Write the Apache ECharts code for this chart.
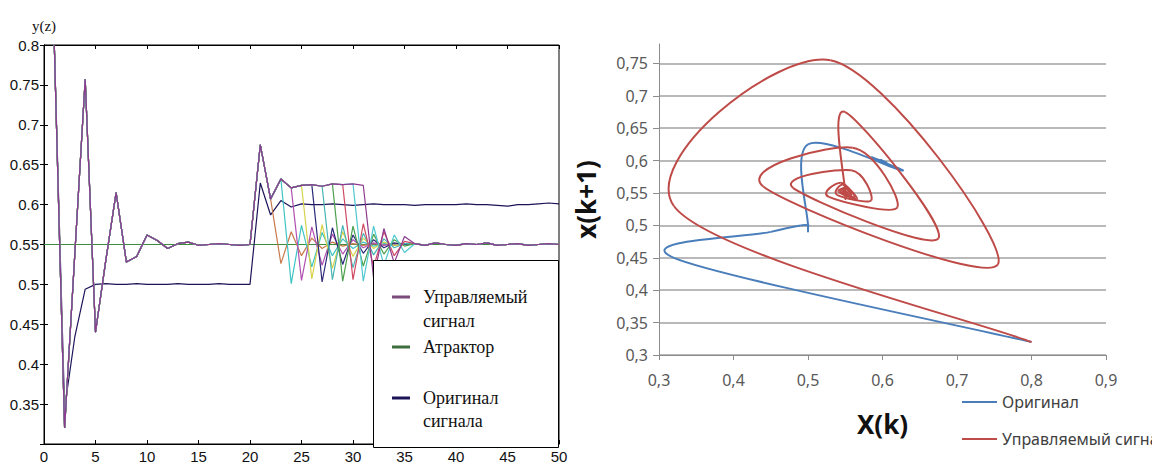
<!DOCTYPE html>
<html>
<head>
<meta charset="utf-8">
<title>Управляемый сигнал и фазовый портрет</title>
<script src="https://cdn.jsdelivr.net/npm/echarts@6.0.0/dist/echarts.min.js"></script>
<style>
    html, body { margin: 0; padding: 0; background: #fff; }
    #chart { width: 1152px; height: 464px; }
</style>
</head>
<body>
<div id="chart"></div>
<script>
// ---- left chart: y(z) over steps ----
var steps = [1, 2, 3, 4, 5, 6, 7, 8, 9, 10, 11, 12, 13, 14, 15, 16, 17, 18, 19, 20,
    21, 22, 23, 24, 25, 26, 27, 28, 29, 30, 31, 32, 33, 34, 35, 36, 37, 38, 39, 40,
    41, 42, 43, 44, 45, 46, 47, 48, 49, 50];

// common start of every controlled run (steps 1..21)
var controlledStart = [0.8, 0.32, 0.54, 0.757, 0.44, 0.53, 0.615, 0.528, 0.535, 0.562,
    0.555, 0.545, 0.551, 0.553, 0.549, 0.55, 0.551, 0.55, 0.549, 0.55, 0.675];
// plateau (steps 22..31)
var controlledPlateau = [0.607, 0.632, 0.621, 0.624, 0.625, 0.623, 0.626, 0.625, 0.626, 0.624];
// step where each run leaves the plateau
var leaveSteps = [22, 23, 24, 25, 26, 27, 28, 29, 30, 31];
var runColors = ['#c8784a', '#3ec4c4', '#b050b0', '#d6d24a', '#2c2a78',
    '#48b4b4', '#4ca04c', '#d04a64', '#50c8d0', '#8e3a8e'];
// values after leaving, up to step 35
var runTails = [
    [0.526, 0.566, 0.536, 0.558, 0.545, 0.553, 0.548, 0.551, 0.549, 0.551, 0.55, 0.549, 0.551],
    [0.501, 0.574, 0.522, 0.565, 0.536, 0.557, 0.545, 0.553, 0.548, 0.551, 0.55, 0.551],
    [0.505, 0.572, 0.524, 0.563, 0.538, 0.556, 0.546, 0.552, 0.549, 0.551, 0.55],
    [0.507, 0.575, 0.52, 0.566, 0.535, 0.558, 0.545, 0.553, 0.549, 0.55],
    [0.503, 0.571, 0.525, 0.562, 0.539, 0.556, 0.546, 0.552, 0.55],
    [0.506, 0.574, 0.521, 0.564, 0.537, 0.557, 0.546, 0.551],
    [0.504, 0.573, 0.523, 0.563, 0.538, 0.556, 0.548],
    [0.506, 0.576, 0.522, 0.566, 0.536, 0.554],
    [0.504, 0.573, 0.524, 0.562, 0.54],
    [0.508, 0.57, 0.527, 0.56]
];
// steps 36..50
var settled = [0.551, 0.549, 0.552, 0.55, 0.549, 0.551, 0.55, 0.552, 0.549, 0.55,
    0.551, 0.549, 0.55, 0.551, 0.55];

var originalSignal = [0.8, 0.345, 0.435, 0.494, 0.5, 0.501, 0.5, 0.5, 0.501, 0.5,
    0.5, 0.5, 0.501, 0.5, 0.5, 0.5, 0.501, 0.5, 0.5, 0.5,
    0.627, 0.587, 0.605, 0.597, 0.601, 0.6, 0.6, 0.601, 0.6, 0.599,
    0.6, 0.601, 0.6, 0.6, 0.6, 0.599, 0.6, 0.6, 0.6, 0.6,
    0.601, 0.6, 0.6, 0.599, 0.598, 0.6, 0.6, 0.601, 0.602, 0.601];
var attractorLevel = 0.55;
var stepRange = [0, 50];

// ---- right chart: phase plane x(k) -> x(k+1) ----
var phaseOriginal = [0.8, 0.32, 0.45, 0.49, 0.5, 0.5, 0.5, 0.5, 0.5, 0.625,
    0.585, 0.605, 0.597, 0.601, 0.599, 0.6, 0.6];
var phaseControlled = [0.8, 0.32, 0.53, 0.755, 0.44, 0.56, 0.62, 0.528, 0.544, 0.566,
    0.541, 0.552, 0.558, 0.546, 0.549, 0.554, 0.549, 0.55, 0.552, 0.549,
    0.55, 0.551, 0.55, 0.55, 0.675, 0.48, 0.558, 0.585, 0.539, 0.547,
    0.563, 0.544, 0.551, 0.557, 0.547, 0.55, 0.553, 0.549, 0.55, 0.551, 0.55, 0.55];
var phaseYTicks = [0.3, 0.35, 0.4, 0.45, 0.5, 0.55, 0.6, 0.65, 0.7, 0.75];

var chart = echarts.init(document.getElementById('chart'), null, {renderer: 'svg'});

function toPairs(values) {
    var out = [];
    for (var i = 0; i < values.length; i++) {
        out.push([steps[i], values[i]]);
    }
    return out;
}

function phasePairs(seq) {
    var out = [];
    for (var i = 0; i < seq.length - 1; i++) {
        out.push([seq[i], seq[i + 1]]);
    }
    return out;
}

function comma(v) {
    return String(Number(v.toFixed(2))).replace('.', ',');
}

// excel-like smoothed line: one bezier piece per point pair
function smoothPiece(points, color) {
    return function (params, api) {
        var i = params.dataIndex;
        if (i >= points.length - 1) {
            return null;
        }
        var p0 = api.coord(points[Math.max(i - 1, 0)]);
        var p1 = api.coord(points[i]);
        var p2 = api.coord(points[i + 1]);
        var p3 = api.coord(points[Math.min(i + 2, points.length - 1)]);
        var t = 1 / 6;
        return {
            type: 'bezierCurve',
            shape: {
                x1: p1[0], y1: p1[1], x2: p2[0], y2: p2[1],
                cpx1: p1[0] + (p2[0] - p0[0]) * t, cpy1: p1[1] + (p2[1] - p0[1]) * t,
                cpx2: p2[0] - (p3[0] - p1[0]) * t, cpy2: p2[1] - (p3[1] - p1[1]) * t
            },
            style: {stroke: color, lineWidth: 2, fill: 'none'}
        };
    };
}

var series = [];

// attractor
series.push({
    name: 'Атрактор', type: 'line', xAxisIndex: 0, yAxisIndex: 0,
    data: [[stepRange[0], attractorLevel], [stepRange[1], attractorLevel]],
    symbol: 'none', lineStyle: {color: '#3c8c3c', width: 1.2}, z: 2
});
// original
series.push({
    name: 'Оригинал сигнала', type: 'line', xAxisIndex: 0, yAxisIndex: 0,
    data: toPairs(originalSignal),
    symbol: 'none', lineStyle: {color: '#1c1458', width: 1.2}, z: 3
});
// controlled runs, main one last
for (var k = 0; k < leaveSteps.length; k++) {
    var vals = controlledStart
        .concat(controlledPlateau.slice(0, leaveSteps[k] - 21))
        .concat(runTails[k])
        .concat(settled);
    series.push({
        name: k === leaveSteps.length - 1 ? 'Управляемый сигнал y(z)' : 'run ' + leaveSteps[k],
        type: 'line', xAxisIndex: 0, yAxisIndex: 0,
        data: toPairs(vals),
        symbol: 'none', lineStyle: {color: runColors[k], width: 1.2}, z: 4
    });
}

// phase plane
var origPts = phasePairs(phaseOriginal);
var ctrlPts = phasePairs(phaseControlled);
series.push({
    name: 'Оригинал', type: 'custom', xAxisIndex: 2, yAxisIndex: 2,
    data: origPts, encode: {x: 0, y: 1},
    renderItem: smoothPiece(origPts, '#4a7ebb'), itemStyle: {color: '#4a7ebb'}
});
series.push({
    name: 'Управляемый сигнал', type: 'custom', xAxisIndex: 2, yAxisIndex: 2,
    data: ctrlPts, encode: {x: 0, y: 1},
    renderItem: smoothPiece(ctrlPts, '#be4b48'), itemStyle: {color: '#be4b48'}
});

var leftLabel = {color: '#111', fontFamily: 'Liberation Sans', fontSize: 15};
var rightLabel = {color: '#595959', fontFamily: 'Noto Sans', fontSize: 16};
var black = {lineStyle: {color: '#000', width: 1}};
var gray = {lineStyle: {color: '#8c8c8c', width: 1}};
var legendFont = {fontFamily: 'Liberation Serif', fontSize: 18, fill: '#111', verticalAlign: 'middle'};

var option = {
    animation: false,
    backgroundColor: '#fff',
    grid: [
        {left: 44, top: 45, right: 593, bottom: 16, show: true, borderColor: '#000', borderWidth: 1, backgroundColor: '#fff'},
        {left: 659, top: 44, right: 46, bottom: 109}
    ],
    xAxis: [
        {type: 'value', gridIndex: 0, min: 0, max: 50, interval: 5,
            axisLine: black, axisTick: {inside: true, length: 4, lineStyle: {color: '#000'}},
            axisLabel: Object.assign({margin: 5}, leftLabel), splitLine: {show: false}},
        {type: 'value', gridIndex: 0, position: 'top', min: 0, max: 50, interval: 5,
            axisLine: black, axisTick: {inside: true, length: 4, lineStyle: {color: '#000'}},
            axisLabel: {show: false}, splitLine: {show: false}},
        {type: 'value', gridIndex: 1, min: 0.3, max: 0.9, interval: 0.1,
            axisLine: gray, axisTick: {length: 5, lineStyle: {color: '#8c8c8c'}},
            axisLabel: Object.assign({margin: 17, formatter: comma}, rightLabel),
            splitLine: {show: false},
            name: 'X(k)', nameLocation: 'middle', nameGap: 56,
            nameTextStyle: {fontFamily: 'Noto Sans', fontWeight: 'bold', fontSize: 26, color: '#111'}}
    ],
    yAxis: [
        {type: 'value', gridIndex: 0, min: 0.3, max: 0.8, interval: 0.05,
            axisLine: black, axisTick: {inside: true, length: 4, lineStyle: {color: '#000'}},
            axisLabel: Object.assign({margin: 5, showMinLabel: false}, leftLabel),
            splitLine: {show: false},
            name: 'y(z)', nameLocation: 'end', nameGap: 12,
            nameTextStyle: {fontFamily: 'Liberation Serif', fontSize: 15, color: '#111', align: 'center'}},
        {type: 'value', gridIndex: 0, position: 'right', min: 0.3, max: 0.8, interval: 0.05,
            axisLine: black, axisTick: {inside: true, length: 4, lineStyle: {color: '#000'}},
            axisLabel: {show: false}, splitLine: {show: false}},
        {type: 'value', gridIndex: 1, min: 0.3, max: 0.78, interval: 0.05,
            axisLine: gray,
            axisTick: {length: 6, lineStyle: {color: '#8c8c8c'}, customValues: phaseYTicks},
            axisLabel: Object.assign({margin: 11, formatter: comma, customValues: phaseYTicks}, rightLabel),
            splitLine: {show: true, lineStyle: {color: '#b9b9b9', width: 2}},
            name: 'x(k+1)', nameLocation: 'middle', nameGap: 60, nameRotate: 90,
            nameTextStyle: {fontFamily: 'Noto Sans', fontWeight: 'bold', fontSize: 26, color: '#111'}}
    ],
    legend: {
        data: ['Оригинал', 'Управляемый сигнал'],
        orient: 'vertical', left: 957, top: 392, itemGap: 21, padding: [2, 5, 2, 5],
        itemWidth: 35, itemHeight: 2, icon: 'rect',
        textStyle: {fontFamily: 'Noto Sans', fontSize: 16, color: '#404040'}
    },
    graphic: [
        {type: 'rect', shape: {x: 373.5, y: 260.5, width: 185, height: 187}, style: {fill: '#fff', stroke: '#000', lineWidth: 1}, z: 100},
        {type: 'line', shape: {x1: 392, y1: 297, x2: 410, y2: 297}, style: {stroke: '#7d4a7d', lineWidth: 3}, z: 101},
        {type: 'line', shape: {x1: 392, y1: 347, x2: 410, y2: 347}, style: {stroke: '#3e6e3e', lineWidth: 3}, z: 101},
        {type: 'line', shape: {x1: 392, y1: 398, x2: 410, y2: 398}, style: {stroke: '#1c1458', lineWidth: 3}, z: 101},
        {type: 'text', x: 423, y: 297, style: Object.assign({text: 'Управляемый'}, legendFont), z: 101},
        {type: 'text', x: 423, y: 321, style: Object.assign({text: 'сигнал'}, legendFont), z: 101},
        {type: 'text', x: 423, y: 347, style: Object.assign({text: 'Атрактор'}, legendFont), z: 101},
        {type: 'text', x: 423, y: 398, style: Object.assign({text: 'Оригинал'}, legendFont), z: 101},
        {type: 'text', x: 423, y: 421, style: Object.assign({text: 'сигнала'}, legendFont), z: 101}
    ],
    series: series
};

chart.setOption(option);
</script>
</body>
</html>
